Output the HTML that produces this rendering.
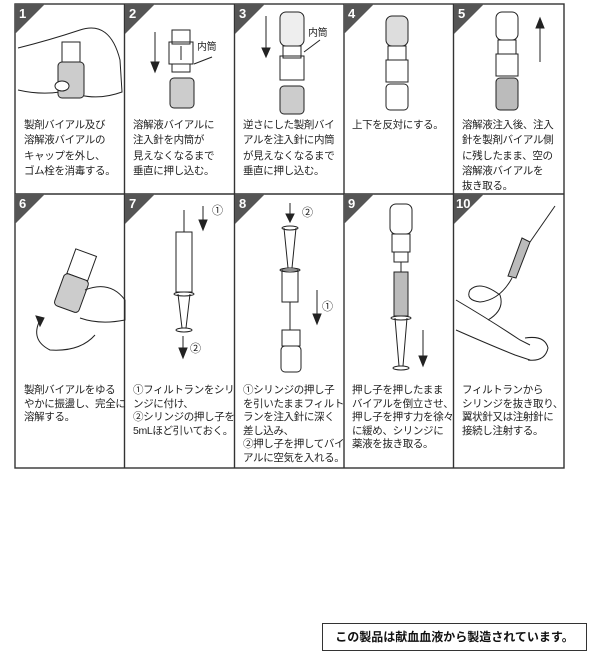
<!DOCTYPE html>
<html><head><meta charset="utf-8"><style>
body{margin:0;width:600px;height:652px;background:#fff;position:relative;overflow:hidden;font-family:"Liberation Sans","Noto Sans CJK JP",sans-serif}
.t{position:absolute;font-size:10.5px;line-height:15.3px;color:#222;white-space:nowrap;letter-spacing:-0.35px}
.r2{line-height:13.6px}
.box{position:absolute;left:322px;top:623px;width:263px;height:26px;border:1.3px solid #333;font-size:12px;font-weight:bold;line-height:26px;text-align:center;color:#111}
svg{position:absolute;left:0;top:0}
</style></head><body>
<svg width="600" height="652" viewBox="0 0 600 652">
<g fill="none" stroke="#333" stroke-width="1.4">
<rect x="15" y="4" width="549" height="464"/>
<line x1="15" y1="194" x2="564" y2="194"/>
<line x1="124.5" y1="4" x2="124.5" y2="468"/><line x1="234.5" y1="4" x2="234.5" y2="468"/>
<line x1="344" y1="4" x2="344" y2="468"/><line x1="453.5" y1="4" x2="453.5" y2="468"/>
</g>
<g fill="#555">
<polygon points="15,4 45,4 15,34"/><polygon points="125,4 155,4 125,34"/><polygon points="235,4 265,4 235,34"/><polygon points="344,4 374,4 344,34"/><polygon points="454,4 484,4 454,34"/>
<polygon points="15,194 45,194 15,224"/><polygon points="125,194 155,194 125,224"/><polygon points="235,194 265,194 235,224"/><polygon points="344,194 374,194 344,224"/><polygon points="454,194 484,194 454,224"/>
</g>
<g fill="#fff" font-family="Liberation Sans" font-weight="bold" font-size="13">
<text x="19" y="18">1</text><text x="129" y="18">2</text><text x="239" y="18">3</text><text x="348" y="18">4</text><text x="458" y="18">5</text>
<text x="19" y="208">6</text><text x="129" y="208">7</text><text x="239" y="208">8</text><text x="348" y="208">9</text><text x="456" y="208">10</text>
</g>
<g stroke="#222" stroke-width="1" fill="none">
<path d="M18,48 Q50,40 80,30 Q110,20 120,60 L122,92 Q100,100 80,95"/>
<path d="M18,90 Q40,95 60,92"/>
<rect x="58" y="62" width="26" height="36" rx="4" fill="#ccc"/><rect x="62" y="42" width="18" height="20" fill="#fff"/>
<ellipse cx="62" cy="86" rx="7" ry="5" fill="#fff"/>
<line x1="155" y1="32" x2="155" y2="70"/><polygon points="151,62 159,62 155,72" fill="#222"/>
<rect x="172" y="30" width="18" height="14"/><rect x="169" y="42" width="24" height="22"/><line x1="181" y1="46" x2="181" y2="60"/>
<rect x="172" y="64" width="18" height="8"/><rect x="170" y="78" width="24" height="30" rx="4" fill="#ccc"/>
<line x1="212" y1="57" x2="194" y2="64"/>
<line x1="266" y1="16" x2="266" y2="55"/><polygon points="262,48 270,48 266,57" fill="#222"/>
<rect x="280" y="12" width="24" height="34" rx="6" fill="#eee"/><rect x="283" y="46" width="18" height="12"/><rect x="280" y="56" width="24" height="24"/><rect x="280" y="86" width="24" height="28" rx="4" fill="#ccc"/>
<line x1="320" y1="40" x2="304" y2="52"/>
<rect x="386" y="16" width="22" height="30" rx="6" fill="#ddd"/><rect x="388" y="46" width="18" height="14"/><rect x="386" y="60" width="22" height="22"/><rect x="386" y="84" width="22" height="26" rx="4"/>
<rect x="496" y="12" width="22" height="28" rx="6"/><rect x="498" y="40" width="18" height="14"/><rect x="496" y="54" width="22" height="22"/><rect x="496" y="78" width="22" height="32" rx="4" fill="#bbb"/>
<line x1="540" y1="20" x2="540" y2="62"/><polygon points="536,28 544,28 540,18" fill="#222"/>
<g transform="rotate(20 70 300)"><rect x="58" y="250" width="22" height="26"/><rect x="56" y="276" width="26" height="34" rx="4" fill="#ccc"/></g>
<path d="M40,320 Q30,340 50,350 Q80,352 95,335"/><polygon points="36,316 44,318 40,326" fill="#222"/>
<path d="M85,290 Q110,280 125,300 L125,320 Q100,325 80,318"/>
<line x1="184" y1="210" x2="184" y2="232"/><rect x="176" y="232" width="16" height="60"/><ellipse cx="184" cy="294" rx="10" ry="2"/><path d="M178,294 L182,328 L186,328 L190,294"/><ellipse cx="184" cy="330" rx="8" ry="2"/>
<line x1="203" y1="206" x2="203" y2="226"/><polygon points="199,220 207,220 203,230" fill="#222"/>
<line x1="183" y1="336" x2="183" y2="352"/><polygon points="179,348 187,348 183,358" fill="#222"/>
<ellipse cx="290" cy="228" rx="8" ry="2"/><path d="M284,228 L288,268 L292,268 L296,228"/><ellipse cx="290" cy="270" rx="10" ry="2"/><rect x="282" y="270" width="16" height="32"/><line x1="290" y1="302" x2="290" y2="330"/>
<rect x="282" y="330" width="18" height="16"/><rect x="281" y="346" width="20" height="26" rx="4"/>
<line x1="290" y1="203" x2="290" y2="218"/><polygon points="286,214 294,214 290,222" fill="#222"/>
<line x1="317" y1="290" x2="317" y2="322"/><polygon points="313,314 321,314 317,324" fill="#222"/>
<rect x="390" y="204" width="22" height="30" rx="6"/><rect x="392" y="234" width="18" height="18"/><rect x="394" y="252" width="14" height="10"/><line x1="401" y1="262" x2="401" y2="272"/>
<rect x="394" y="272" width="14" height="44" fill="#bbb"/><ellipse cx="401" cy="318" rx="10" ry="2"/><path d="M395,318 L399,366 L403,366 L407,318"/><ellipse cx="401" cy="368" rx="8" ry="2"/>
<line x1="423" y1="330" x2="423" y2="364"/><polygon points="419,356 427,356 423,366" fill="#222"/>
<line x1="555" y1="206" x2="530" y2="242"/><path d="M530,242 L516,278 L508,276 L522,238 Z" fill="#bbb"/><path d="M512,278 Q500,300 480,302 Q465,300 470,290 Q480,280 500,295 Q505,310 488,320"/>
<path d="M456,300 Q490,320 520,340 L530,345"/><path d="M456,330 Q490,345 515,355 L530,360"/>
<path d="M525,338 Q545,335 548,348 Q545,362 528,360"/>
</g>
</svg>
<div class="t" style="left:24px;top:118px">製剤バイアル及び<br>溶解液バイアルの<br>キャップを外し、<br>ゴム栓を消毒する。</div>
<div class="t" style="left:133px;top:118px">溶解液バイアルに<br>注入針を内筒が<br>見えなくなるまで<br>垂直に押し込む。</div>
<div class="t" style="left:243px;top:118px">逆さにした製剤バイ<br>アルを注入針に内筒<br>が見えなくなるまで<br>垂直に押し込む。</div>
<div class="t" style="left:352px;top:118px">上下を反対にする。</div>
<div class="t" style="left:462px;top:118px">溶解液注入後、注入<br>針を製剤バイアル側<br>に残したまま、空の<br>溶解液バイアルを<br>抜き取る。</div>
<div class="t r2" style="left:24px;top:384px">製剤バイアルをゆる<br>やかに振盪し、完全に<br>溶解する。</div>
<div class="t r2" style="left:133px;top:384px">①フィルトランをシリ<br>ンジに付け、<br>②シリンジの押し子を<br>5mLほど引いておく。</div>
<div class="t r2" style="left:243px;top:384px">①シリンジの押し子<br>を引いたままフィルト<br>ランを注入針に深く<br>差し込み、<br>②押し子を押してバイ<br>アルに空気を入れる。</div>
<div class="t r2" style="left:352px;top:384px">押し子を押したまま<br>バイアルを倒立させ、<br>押し子を押す力を徐々<br>に緩め、シリンジに<br>薬液を抜き取る。</div>
<div class="t r2" style="left:462px;top:384px">フィルトランから<br>シリンジを抜き取り、<br>翼状針又は注射針に<br>接続し注射する。</div>
<div class="t" style="left:197px;top:40px;font-size:10px">内筒</div>
<div class="t" style="left:308px;top:26px;font-size:10px">内筒</div>
<div class="t" style="left:212px;top:204px;font-size:11px">①</div>
<div class="t" style="left:190px;top:342px;font-size:11px">②</div>
<div class="t" style="left:302px;top:206px;font-size:11px">②</div>
<div class="t" style="left:322px;top:300px;font-size:11px">①</div>
<div class="box">この製品は献血血液から製造されています。</div>
</body></html>
